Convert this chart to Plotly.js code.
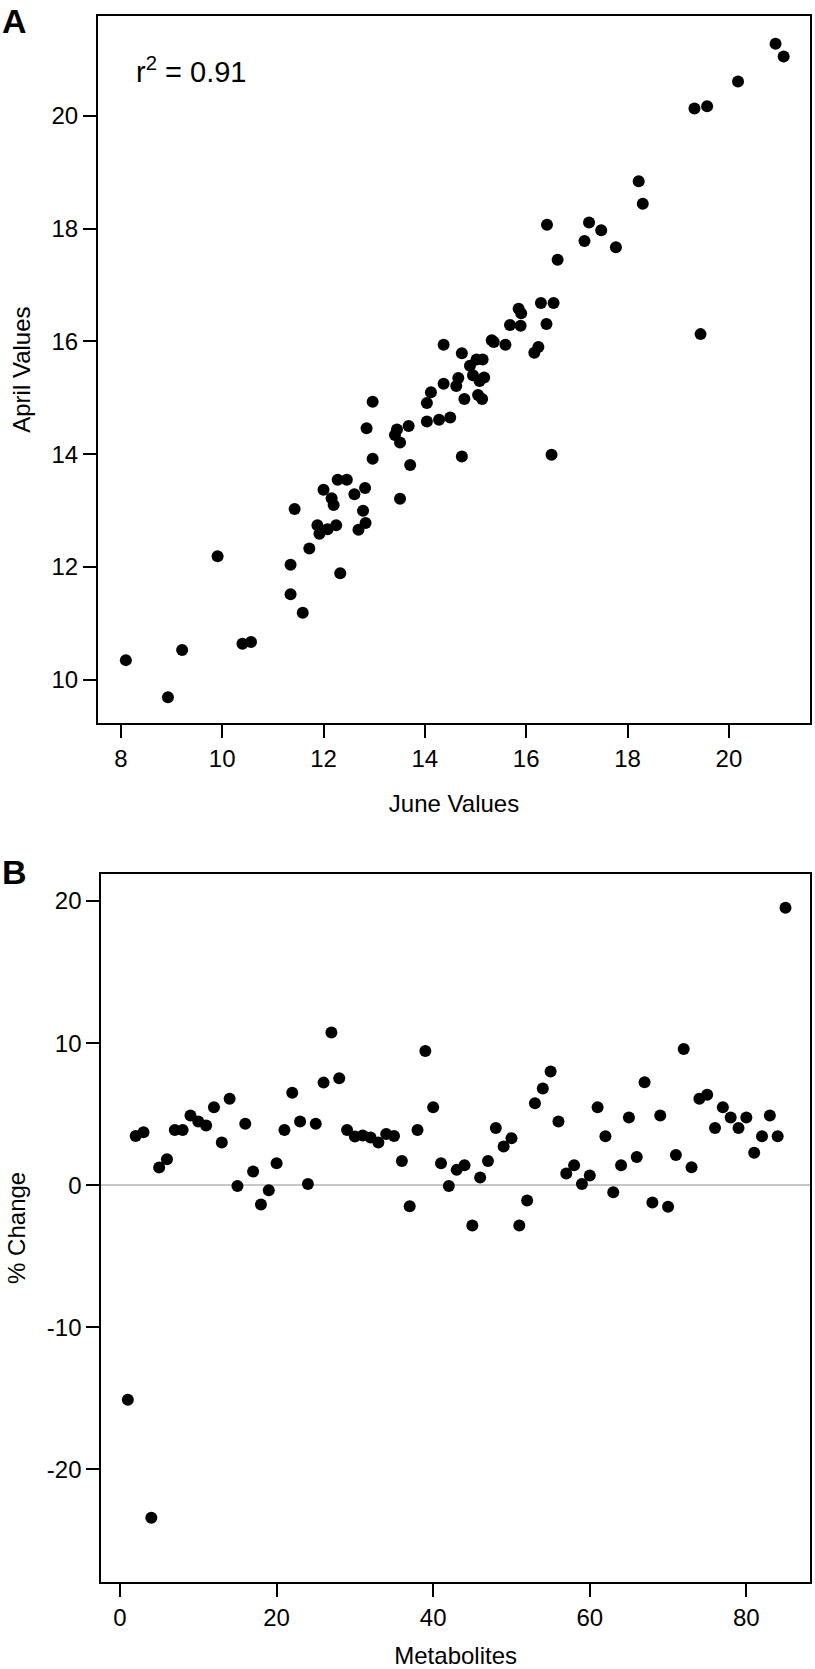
<!DOCTYPE html>
<html>
<head>
<meta charset="utf-8">
<script src="https://cdn.plot.ly/plotly-3.0.1.min.js"></script>
<style>
  html, body { margin: 0; padding: 0; background: #fff; }
  #chart { width: 815px; height: 1669px; }
</style>
</head>
<body>
<div id="chart"></div>
<script>
// ---------- Panel A data: June vs April values ----------
const juneValues = [
  8.10, 8.93, 9.21, 9.91, 10.40, 10.57, 11.35, 11.35, 11.43, 11.59,
  11.72, 11.88, 11.92, 12.00, 12.08, 12.16, 12.20, 12.25, 12.28, 12.46,
  12.33, 12.61, 12.69, 12.78, 12.82, 12.83, 12.85, 12.97, 12.97, 13.41,
  13.45, 13.51, 13.51, 13.68, 13.71, 14.04, 14.04, 14.12, 14.28, 14.37,
  14.37, 14.50, 14.62, 14.66, 14.73, 14.73, 14.78, 14.89, 14.95, 15.02,
  15.05, 15.08, 15.13, 15.14, 15.17, 15.32, 15.36, 15.59, 15.68, 15.85,
  15.90, 15.89, 16.16, 16.24, 16.29, 16.40, 16.54, 16.50, 16.41, 16.62,
  17.15, 17.24, 17.48, 17.77, 18.22, 18.30, 19.32, 19.57, 19.44, 20.18,
  20.92, 21.08
];
const aprilValues = [
  10.35, 9.69, 10.53, 12.19, 10.64, 10.67, 11.52, 12.04, 13.03, 11.19,
  12.33, 12.74, 12.59, 13.37, 12.67, 13.22, 13.10, 12.74, 13.55, 13.55,
  11.89, 13.29, 12.66, 13.00, 13.40, 12.78, 14.46, 13.92, 14.93, 14.34,
  14.44, 14.21, 13.21, 14.50, 13.81, 14.58, 14.91, 15.10, 14.61, 15.25,
  15.94, 14.65, 15.21, 15.35, 15.79, 13.96, 14.98, 15.57, 15.40, 15.68,
  15.05, 15.30, 14.98, 15.68, 15.36, 16.02, 15.99, 15.94, 16.29, 16.58,
  16.50, 16.28, 15.80, 15.90, 16.68, 16.31, 16.68, 13.99, 18.07, 17.45,
  17.78, 18.11, 17.97, 17.67, 18.84, 18.44, 20.13, 20.17, 16.13, 20.61,
  21.28, 21.05
];
const r2Label = "r<sup>2</sup> = 0.91";

// ---------- Panel B data: % change per metabolite ----------
const metaboliteIndex = [
  1, 2, 3, 4, 5, 6, 7, 8, 9, 10, 11, 12, 13, 14, 15, 16, 17, 18, 19, 20,
  21, 22, 23, 24, 25, 26, 27, 28, 29, 30, 31, 32, 33, 34, 35, 36, 37, 38, 39, 40,
  41, 42, 43, 44, 45, 46, 47, 48, 49, 50, 51, 52, 53, 54, 55, 56, 57, 58, 59, 60,
  61, 62, 63, 64, 65, 66, 67, 68, 69, 70, 71, 72, 73, 74, 75, 76, 77, 78, 79, 80,
  81, 82, 83, 84, 85
];
const percentChange = [
  -15.1, 3.47, 3.73, -23.4, 1.24, 1.83, 3.89, 3.89, 4.90, 4.48,
  4.20, 5.49, 3.00, 6.08, -0.05, 4.32, 0.96, -1.36, -0.35, 1.55,
  3.89, 6.50, 4.48, 0.09, 4.32, 7.22, 10.74, 7.53, 3.89, 3.42,
  3.50, 3.35, 3.00, 3.61, 3.47, 1.71, -1.48, 3.89, 9.45, 5.49,
  1.55, -0.05, 1.08, 1.41, -2.84, 0.54, 1.71, 4.03, 2.72, 3.31,
  -2.84, -1.08, 5.77, 6.80, 8.00, 4.48, 0.82, 1.41, 0.09, 0.68,
  5.49, 3.45, -0.49, 1.41, 4.76, 1.99, 7.25, -1.22, 4.90, -1.52,
  2.13, 9.59, 1.27, 6.08, 6.36, 4.03, 5.49, 4.76, 4.03, 4.76,
  2.28, 3.45, 4.90, 3.45, 19.52
];

// ---------- Tick labels ----------
const ticksAx = [8, 10, 12, 14, 16, 18, 20];
const ticksAy = [10, 12, 14, 16, 18, 20];
const ticksBx = [0, 20, 40, 60, 80];
const ticksBy = [-20, -10, 0, 10, 20];
const ticksByText = ["-20", "-10", "0", "10", "20"];

// ---------- Styling ----------
const FONT = "Arial, 'Liberation Sans', Helvetica, sans-serif";
const W = 815, H = 1669;
const px = v => v / W;
const py = v => 1 - v / H;

const marker = { color: "#000", size: 12, line: { width: 0 } };

const traces = [
  { type: "scatter", mode: "markers", x: juneValues, y: aprilValues,
    xaxis: "x", yaxis: "y", marker: marker, hoverinfo: "x+y" },
  { type: "scatter", mode: "markers", x: metaboliteIndex, y: percentChange,
    xaxis: "x2", yaxis: "y2", marker: marker, hoverinfo: "x+y" }
];

const titleFont = { family: FONT, size: 24, color: "#000" };

const axisBase = {
  showline: true, linecolor: "#000", linewidth: 2, mirror: true,
  ticks: "outside", ticklen: 13, tickwidth: 2, tickcolor: "#000",
  showgrid: false, zeroline: false,
  tickfont: { family: FONT, size: 24, color: "#000" },
  automargin: false, fixedrange: true
};

const layout = {
  width: W, height: H,
  margin: { l: 0, r: 0, t: 0, b: 0, pad: 0 },
  paper_bgcolor: "#fff", plot_bgcolor: "#fff",
  showlegend: false,
  font: { family: FONT, color: "#000" },
  xaxis: Object.assign({}, axisBase, {
    domain: [px(98), px(810)], range: [7.55, 21.6], anchor: "y",
    tickmode: "array", tickvals: ticksAx,
    title: { text: "June Values", font: titleFont, standoff: 24 }
  }),
  yaxis: Object.assign({}, axisBase, {
    domain: [py(723.3), py(16)], range: [9.23, 21.77], anchor: "x",
    tickmode: "array", tickvals: ticksAy,
    title: { text: "April Values", font: titleFont, standoff: 14 }
  }),
  xaxis2: Object.assign({}, axisBase, {
    domain: [px(101.3), px(810)], range: [-2.39, 88.13], anchor: "y2",
    tickmode: "array", tickvals: ticksBx,
    title: { text: "Metabolites", font: titleFont, standoff: 26 }
  }),
  yaxis2: Object.assign({}, axisBase, {
    domain: [py(1581.7), py(874)], range: [-27.9, 21.9], anchor: "x2",
    tickmode: "array", tickvals: ticksBy, ticktext: ticksByText,
    zeroline: true, zerolinecolor: "#c8c8c8", zerolinewidth: 2,
    title: { text: "% Change", font: titleFont, standoff: 14 }
  }),
  annotations: [
    { text: "<b>A</b>", xref: "paper", yref: "paper", x: px(0), y: py(0),
      xanchor: "left", yanchor: "top", showarrow: false,
      font: { family: FONT, size: 34, color: "#000" } },
    { text: "<b>B</b>", xref: "paper", yref: "paper", x: px(0), y: py(851),
      xanchor: "left", yanchor: "top", showarrow: false,
      font: { family: FONT, size: 34, color: "#000" } },
    { text: r2Label, xref: "paper", yref: "paper", x: px(134), y: py(70),
      xanchor: "left", yanchor: "middle", showarrow: false,
      font: { family: FONT, size: 29, color: "#000" } }
  ]
};

Plotly.newPlot("chart", traces, layout, { staticPlot: true, displayModeBar: false });
</script>
</body>
</html>
